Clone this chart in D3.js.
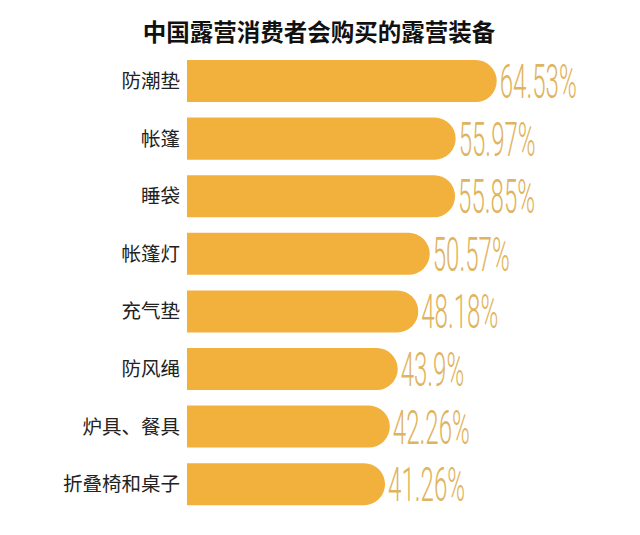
<!DOCTYPE html>
<html>
<head>
<meta charset="utf-8">
<script src="https://cdn.jsdelivr.net/npm/d3@7"></script>
<style>
  body { margin: 0; background: #fff; }
</style>
</head>
<body>
<div id="chart"></div>
<script>
// chart data
var titleText = "中国露营消费者会购买的露营装备";
var categories = ["防潮垫", "帐篷", "睡袋", "帐篷灯", "充气垫", "防风绳", "炉具、餐具", "折叠椅和桌子"];
var values = [64.53, 55.97, 55.85, 50.57, 48.18, 43.9, 42.26, 41.26];
var valueLabels = ["64.53%", "55.97%", "55.85%", "50.57%", "48.18%", "43.9%", "42.26%", "41.26%"];

var width = 640, height = 535;

var svg = d3.select("#chart")
  .append("svg")
    .attr("width", width)
    .attr("height", height);

var data = categories.map(function(c, i) {
  return {name: c, value: values[i], label: valueLabels[i]};
});

// scales
var x = d3.scaleLinear()
  .domain([0, 100])
  .range([187, 667]);

var y = d3.scaleBand()
  .domain(categories)
  .range([60, 505.2])
  .paddingInner(0.27)
  .paddingOuter(0);

// title
svg.append("text")
  .attr("x", 319)
  .attr("y", 41)
  .attr("text-anchor", "middle")
  .style("font-family", "'Noto Sans CJK SC', sans-serif")
  .style("font-weight", "bold")
  .style("font-size", "23.5px")
  .attr("fill", "#111")
  .text(titleText);

// bars: square left, round right end
function barPath(d) {
  var x0 = x(0), x1 = x(d.value), y0 = y(d.name), h = y.bandwidth(), r = h / 2;
  return "M" + x0 + "," + y0 +
    "H" + (x1 - r) +
    "A" + r + "," + r + " 0 0 1 " + (x1 - r) + "," + (y0 + h) +
    "H" + x0 + "Z";
}

svg.selectAll("path.bar")
  .data(data)
  .enter()
  .append("path")
    .attr("class", "bar")
    .attr("d", barPath)
    .attr("fill", "#f2b13c");

// category labels
svg.selectAll("text.cat")
  .data(data)
  .enter()
  .append("text")
    .attr("class", "cat")
    .attr("x", 180)
    .attr("y", function(d) { return y(d.name) + y.bandwidth() / 2 + 7; })
    .attr("text-anchor", "end")
    .style("font-family", "'Noto Sans CJK SC', sans-serif")
    .style("font-size", "19.5px")
    .attr("fill", "#222")
    .text(function(d) { return d.name; });

// value labels, squeezed horizontally to look like the condensed face
function labelWidth(s) {
  var w = 0;
  for (var i = 0; i < s.length; i++) {
    var ch = s[i];
    if (ch === ".") w += 5;
    else if (ch === "%") w += 18;
    else w += 13.5;
  }
  return w;
}

svg.selectAll("text.val")
  .data(data)
  .enter()
  .append("text")
    .attr("class", "val")
    .style("font-family", "Roboto, sans-serif")
    .style("font-weight", "300")
    .style("font-size", "48px")
    .attr("fill", "#dfb45e")
    .text(function(d) { return d.label; })
    .attr("transform", function(d) {
      var natural = this.getComputedTextLength();
      var sx = labelWidth(d.label) / natural;
      return "translate(" + (x(d.value) + 3) + "," + (y(d.name) + y.bandwidth() / 2 + 17) + ") scale(" + sx + ",1)";
    });
</script>
</body>
</html>
